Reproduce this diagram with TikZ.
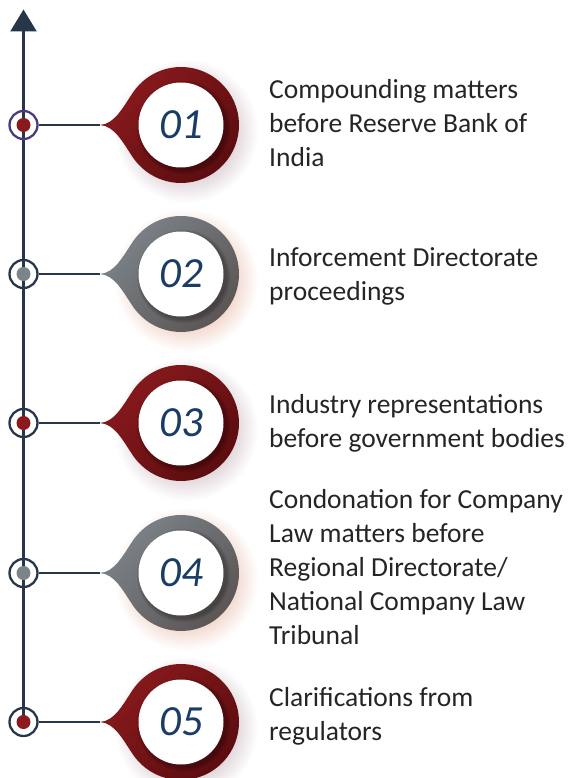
\documentclass[tikz,border=0pt]{standalone}
\usepackage{fontspec}
\setmainfont{Carlito}
\usetikzlibrary{arrows.meta}
\definecolor{axisc}{HTML}{28364A}
\definecolor{ringp}{HTML}{4B3B7C}
\definecolor{redA}{HTML}{891A1D}
\definecolor{redB}{HTML}{590C0F}
\definecolor{grayA}{HTML}{7C848A}
\definecolor{grayB}{HTML}{5A5352}
\definecolor{dotr}{HTML}{8A1A1D}
\definecolor{dotg}{HTML}{7C848A}
\definecolor{numc}{HTML}{1A3D65}
\definecolor{txtc}{HTML}{252525}
\definecolor{shR}{HTML}{D9CCD2}
\definecolor{shG}{HTML}{EFCFC2}
\pgfdeclareradialshading{shadowR}{\pgfpoint{0bp}{0bp}}{color(0bp)=(shR);color(15bp)=(shR);color(25bp)=(white);color(50bp)=(white)}
\pgfdeclareradialshading{shadowG}{\pgfpoint{0bp}{0bp}}{color(0bp)=(shG);color(15bp)=(shG);color(25bp)=(white);color(50bp)=(white)}
\tikzset{
  axisline/.style={draw=axisc, line width=2.5pt},
  ringnode/.style={circle, draw=axisc, line width=2.3pt, minimum size=28pt, inner sep=0pt},
  dotnode/.style={circle, minimum size=14pt, inner sep=0pt},
  numtext/.style={text=numc, font=\fontsize{43}{43}\selectfont\itshape, inner sep=0pt},
  itemtext/.style={text=txtc, font=\fontsize{27.5}{34}\selectfont, anchor=base west, inner sep=0pt},
  pinredstyle/.style={top color=redA, middle color=redA, bottom color=redB, shading angle=45},
  pingraystyle/.style={top color=grayA, middle color=grayA, bottom color=grayB, shading angle=45},
  pics/pinball/.style 2 args={code={
    \shade[shading=#2] (5,6) circle (72);
    \path[#1] (-81,0) .. controls (-66,1) and (-58,18) .. (145:58)
      arc[start angle=145, end angle=-145, radius=58]
      .. controls (-58,-18) and (-66,-1) .. (-81,0) -- cycle;
    \foreach \r in {43.5,45,46.5} {\fill[black, opacity=0.09] (2.5,2.5) circle (\r);}
    \fill[white] (0,0) circle (42.5);
  }}
}
\newcommand{\itemlines}[1]{\begin{tabular}[t]{@{}l@{}}#1\end{tabular}}
\begin{document}
\begin{tikzpicture}[x=1pt,y=-1pt]
\useasboundingbox[fill=white] (0,0) rectangle (576,778);
% ring centres and pin tips / centres
\coordinate (top) at (23.5,9.5);
\foreach \i/\y in {1/125,2/274,3/423,4/573,5/722}{
  \coordinate (c\i) at (23.5,\y);
  \coordinate (t\i) at (100,\y);
  \coordinate (p\i) at (181,\y);
}
% vertical axis
\draw[axisline, -{Triangle[length=22pt,width=26pt]}] (c5) -- (top);
% rings
\node[ringnode, draw=ringp] (r1) at (c1) {};
\node[ringnode] (r2) at (c2) {};
\node[ringnode] (r3) at (c3) {};
\node[ringnode] (r4) at (c4) {};
\node[ringnode] (r5) at (c5) {};
\node[dotnode, fill=dotr] (d1) at (c1) {};
\node[dotnode, fill=dotg] (d2) at (c2) {};
\node[dotnode, fill=dotr] (d3) at (c3) {};
\node[dotnode, fill=dotg] (d4) at (c4) {};
\node[dotnode, fill=dotr] (d5) at (c5) {};
% pins
\pic at (p1) {pinball={pinredstyle}{shadowR}};
\pic at (p2) {pinball={pingraystyle}{shadowG}};
\pic at (p3) {pinball={pinredstyle}{shadowR}};
\pic at (p4) {pinball={pingraystyle}{shadowG}};
\pic at (p5) {pinball={pinredstyle}{shadowR}};
% connectors
\foreach \i in {1,...,5}{ \draw[axisline] (r\i.east) -- (t\i); }
% numbers
\node[numtext] (n1) at (p1) {01};
\node[numtext] (n2) at (p2) {02};
\node[numtext] (n3) at (p3) {03};
\node[numtext] (n4) at (p4) {04};
\node[numtext] (n5) at (p5) {05};
% texts
\node[itemtext] (l1) at (269,99) {\itemlines{Compounding matters\\before Reserve Bank of\\India}};
\node[itemtext] (l2) at (269,266) {\itemlines{Inforcement Directorate\\proceedings}};
\node[itemtext] (l3) at (269,413) {\itemlines{Industry representations\\before government bodies}};
\node[itemtext] (l4) at (269,508) {\itemlines{Condonation for Company\\Law matters before\\Regional Directorate/\\National Company Law\\Tribunal}};
\node[itemtext] (l5) at (269,706) {\itemlines{Clarifications from\\regulators}};
\end{tikzpicture}
\end{document}
